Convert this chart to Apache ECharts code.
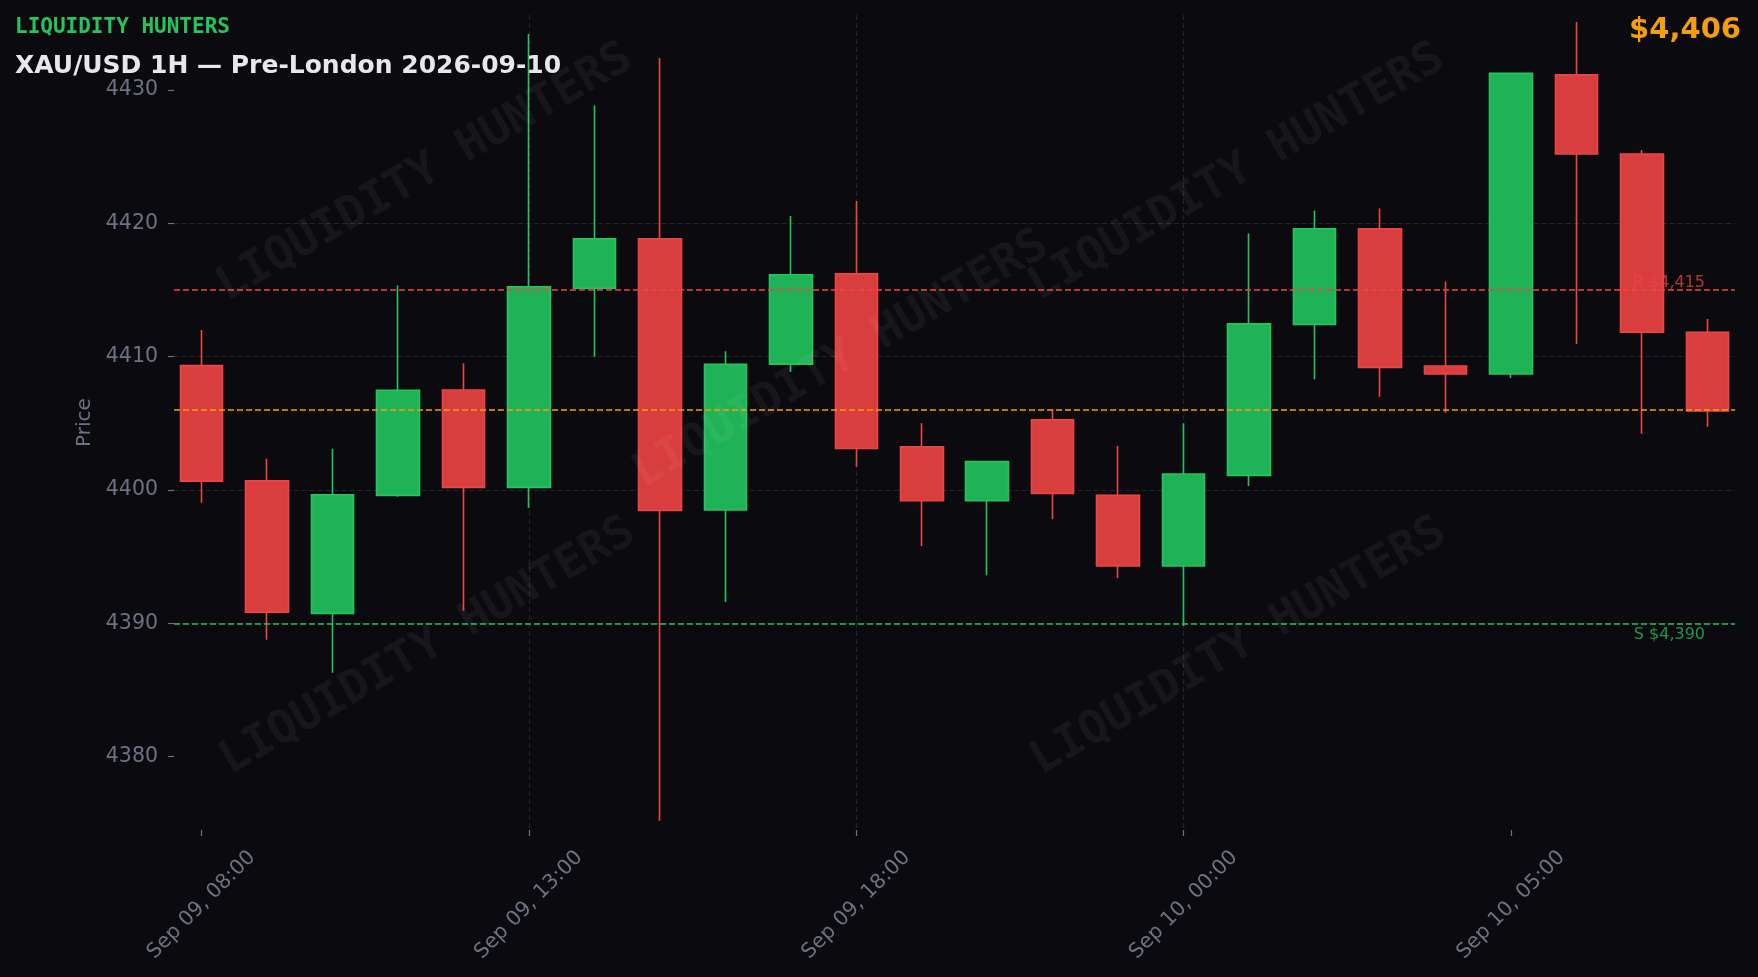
<!DOCTYPE html>
<html><head><meta charset="utf-8">
<script src="https://cdn.jsdelivr.net/npm/echarts@6/dist/echarts.min.js"></script>
<style>html,body{margin:0;padding:0;background:#0b0b0f;}#c{width:1758px;height:977px;}</style>
</head><body><div id="c"></div>
<script>
// ---- data ----
const times = [
  'Sep 09, 08:00','Sep 09, 09:00','Sep 09, 10:00','Sep 09, 11:00','Sep 09, 12:00',
  'Sep 09, 13:00','Sep 09, 14:00','Sep 09, 15:00','Sep 09, 16:00','Sep 09, 17:00',
  'Sep 09, 18:00','Sep 09, 19:00','Sep 09, 20:00','Sep 09, 22:00','Sep 09, 23:00',
  'Sep 10, 00:00','Sep 10, 01:00','Sep 10, 02:00','Sep 10, 03:00','Sep 10, 04:00',
  'Sep 10, 05:00','Sep 10, 06:00','Sep 10, 07:00','Sep 10, 08:00'
];
const opens  = [4409.33,4400.70,4390.75,4399.60,4407.50,4400.20,4415.13,4418.85,4398.50,4409.43,
                4416.22,4403.25,4399.20,4405.27,4399.60,4394.30,4401.10,4412.42,4419.60,4409.30,
                4408.70,4431.15,4425.20,4411.83];
const closes = [4400.67,4390.83,4399.65,4407.48,4400.20,4415.25,4418.85,4398.47,4409.43,4416.15,
                4403.12,4399.20,4402.13,4399.75,4394.30,4401.20,4412.47,4419.60,4409.20,4408.70,
                4431.25,4425.20,4411.83,4405.93];
const lows   = [4399.05,4388.77,4386.30,4399.50,4390.95,4398.67,4410.00,4375.20,4391.60,4408.85,
                4401.75,4395.80,4393.60,4397.80,4393.40,4389.80,4400.30,4408.30,4407.00,4405.80,
                4408.40,4410.95,4404.22,4404.75];
const highs  = [4412.00,4402.35,4403.10,4415.35,4409.50,4434.20,4428.85,4432.40,4410.40,4420.55,
                4421.68,4405.00,4402.13,4406.05,4403.30,4405.00,4419.25,4420.97,4421.12,4415.65,
                4431.25,4435.10,4425.50,4412.83];
const xTickIdx = [0,5,10,15,20];
const yTicks = [4380,4390,4400,4410,4420,4430];
const resistance = 4415;
const support = 4390;
const lastPrice = 4406;
const brand = 'LIQUIDITY HUNTERS';
const titleText = 'XAU/USD 1H \u2014 Pre-London 2026-09-10';

// ---- chart ----
const chart = echarts.init(document.getElementById('c'), null, {renderer:'canvas'});
const rows = opens.map((o,i)=>[i,o,closes[i],lows[i],highs[i]]);
const fmt = v => '$' + v.toLocaleString('en-US');
const GRAY = '#6b7280';
const GRID = '#23242c';
const GREEN = '#22c55e', RED = '#ef4444', ORANGE = '#f59e0b';

const wmPos = [[425,173],[841,360],[1237,173],[428,647],[1239,647]];
const graphics = wmPos.map(p => ({
  type:'text', x:p[0], y:p[1], rotation: 30*Math.PI/180, z:100, silent:true,
  style:{text:brand, fill:'rgba(255,255,255,0.05)', font:'bold 46px "DejaVu Sans Mono", monospace',
         textAlign:'center', textVerticalAlign:'middle'}
}));
graphics.push(
  {type:'text', left:15, top:17, z:110, style:{text:brand, fill:GREEN, font:'bold 21px "DejaVu Sans Mono", monospace'}},
  {type:'text', left:15, top:54, z:110, style:{text:titleText, fill:'#e8e8ec', font:'bold 25px "DejaVu Sans", sans-serif'}},
  {type:'text', right:17, top:16, z:110, style:{text:fmt(lastPrice), fill:ORANGE, font:'bold 29px "DejaVu Sans", sans-serif'}}
);

const option = {
  backgroundColor:'#0b0b0f',
  animation:false,
  grid:{left:174,right:23,top:15,bottom:147},
  xAxis:{
    type:'value', min:-0.42, max:23.42, splitNumber:5, minInterval:5, maxInterval:5,
    axisLine:{show:false, onZero:false},
    axisTick:{show:true, length:6, customValues:xTickIdx, lineStyle:{color:GRAY, width:1.2}},
    axisLabel:{customValues:xTickIdx, formatter:v=>times[v], rotate:45, align:'center', verticalAlign:'middle',
               margin:75, color:GRAY, fontSize:20.5, fontFamily:'DejaVu Sans'},
    splitLine:{show:true, showMinLine:false, showMaxLine:false, lineStyle:{color:GRID, type:[5,3], width:1.2}}
  },
  yAxis:{
    type:'value', min:4374.5, max:4435.63, splitNumber:6, minInterval:10, maxInterval:10, scale:true,
    name:'Price', nameLocation:'middle', nameGap:67, nameRotate:90,
    nameTextStyle:{color:GRAY, fontSize:20, fontFamily:'DejaVu Sans'},
    axisLine:{show:false, onZero:false},
    axisTick:{show:true, length:6, customValues:yTicks, lineStyle:{color:GRAY, width:1.2}},
    axisLabel:{customValues:yTicks, formatter:v=>String(v), margin:16, color:GRAY, fontSize:20.5, fontFamily:'DejaVu Sans'},
    splitLine:{show:true, showMinLine:false, showMaxLine:false, lineStyle:{color:GRID, type:[5,3], width:1.2}}
  },
  graphic: graphics,
  series:[{
    type:'candlestick',
    data: rows,
    encode:{x:0, y:[1,2,3,4]},
    barWidth:43,
    clip:false,
    itemStyle:{color:'#20b256', color0:'#d83e3e', borderColor:GREEN, borderColor0:RED, borderWidth:1.6},
    markLine:{
      silent:true, symbol:['none','none'], animation:false,
      data:[
        {yAxis:resistance, lineStyle:{color:RED, type:[6,3], width:1.5},
         label:{show:true, position:'insideEndTop', formatter:'R ' + fmt(resistance), color:'rgba(239,68,68,0.75)',
                fontSize:16, fontFamily:'DejaVu Sans', distance:[30,-1]}},
        {yAxis:support, lineStyle:{color:GREEN, type:[6,3], width:1.5},
         label:{show:true, position:'insideEndBottom', formatter:'S ' + fmt(support), color:'rgba(34,197,94,0.75)',
                fontSize:16, fontFamily:'DejaVu Sans', distance:[30,3]}},
        {yAxis:lastPrice, lineStyle:{color:ORANGE, type:[6,3], width:1.5}, label:{show:false}}
      ]
    }
  }]
};
chart.setOption(option);
</script>
</body></html>
